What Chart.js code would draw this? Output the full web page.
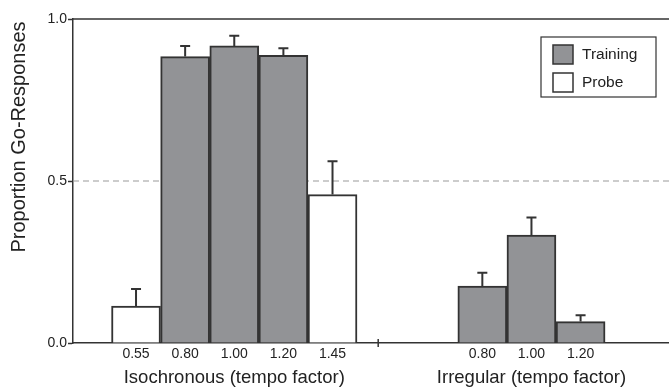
<!DOCTYPE html>
<html>
<head>
<meta charset="utf-8">
<script src="https://cdn.jsdelivr.net/npm/chart.js@4/dist/chart.umd.min.js"></script>
<style>
  html, body { margin: 0; padding: 0; background: #fff; }
  #wrap { width: 669px; height: 390px; position: relative; }
</style>
</head>
<body>
<div id="wrap"><canvas id="chart"></canvas></div>
<script>
// tempo factors per condition
const isoLabels = ['0.55', '0.80', '1.00', '1.20', '1.45'];
const irrLabels = ['0.80', '1.00', '1.20'];
// which bars are training vs probe
const isoKinds = ['Probe', 'Training', 'Training', 'Training', 'Probe'];
const irrKinds = ['Training', 'Training', 'Training'];
// proportion of go-responses, plus upward error bars
const isoMeans = [0.114, 0.884, 0.917, 0.888, 0.458];
const isoErrors = [0.053, 0.033, 0.031, 0.022, 0.103];
const irrMeans = [0.176, 0.333, 0.066];
const irrErrors = [0.041, 0.054, 0.020];
const yTicks = [0, 0.5, 1.0];

// slots on the x axis (irregular group starts after a gap)
const isoSlots = isoLabels.map((_, i) => i);
const irrSlots = irrLabels.map((_, i) => i + 7.05);
const sepSlot = 4.93;

const ink = '#333333';
const gray = '#929396';
const font = '"Liberation Sans", Arial, sans-serif';

function pointsFor(kind) {
  const pts = [];
  isoKinds.forEach((k, i) => { if (k === kind) pts.push({ x: isoSlots[i], y: isoMeans[i], err: isoErrors[i] }); });
  irrKinds.forEach((k, i) => { if (k === kind) pts.push({ x: irrSlots[i], y: irrMeans[i], err: irrErrors[i] }); });
  return pts;
}

const tickLabel = {};
isoSlots.forEach((s, i) => { tickLabel[s] = isoLabels[i]; });
irrSlots.forEach((s, i) => { tickLabel[s] = irrLabels[i]; });

const extras = {
  id: 'extras',
  beforeDatasetsDraw(chart) {
    const { ctx, chartArea: a, scales: { y } } = chart;
    // dashed reference line at 0.5
    ctx.save();
    ctx.strokeStyle = '#9a9a9a';
    ctx.lineWidth = 1.2;
    ctx.setLineDash([6, 4]);
    ctx.beginPath();
    ctx.moveTo(a.left, y.getPixelForValue(0.5));
    ctx.lineTo(a.right, y.getPixelForValue(0.5));
    ctx.stroke();
    ctx.restore();
  },
  afterDatasetsDraw(chart) {
    const { ctx, chartArea: a, scales: { x, y } } = chart;
    ctx.save();
    ctx.strokeStyle = ink;
    ctx.lineWidth = 2;
    // error bars (upper half only)
    chart.data.datasets.forEach((ds, di) => {
      chart.getDatasetMeta(di).data.forEach((bar, i) => {
        const p = ds.data[i];
        const top = y.getPixelForValue(p.y + p.err);
        ctx.beginPath();
        ctx.moveTo(bar.x, bar.y);
        ctx.lineTo(bar.x, top);
        ctx.moveTo(bar.x - 5, top);
        ctx.lineTo(bar.x + 5, top);
        ctx.stroke();
      });
    });
    // top frame line
    ctx.lineWidth = 1.5;
    ctx.beginPath();
    ctx.moveTo(a.left, a.top);
    ctx.lineTo(a.right, a.top);
    ctx.stroke();
    // separator tick between groups
    const sx = x.getPixelForValue(sepSlot);
    ctx.beginPath();
    ctx.moveTo(sx, a.bottom - 4);
    ctx.lineTo(sx, a.bottom + 4);
    ctx.stroke();

    // group labels
    ctx.fillStyle = '#222';
    ctx.font = '18.5px ' + font;
    ctx.textAlign = 'center';
    ctx.textBaseline = 'middle';
    ctx.fillText('Isochronous (tempo factor)', x.getPixelForValue(isoSlots[2]), 378);
    ctx.fillText('Irregular (tempo factor)', x.getPixelForValue(irrSlots[1]), 378);

    // y axis title
    ctx.save();
    ctx.translate(19, 137);
    ctx.rotate(-Math.PI / 2);
    ctx.font = '20px ' + font;
    ctx.fillText('Proportion Go-Responses', 0, 0);
    ctx.restore();

    // legend box
    const lx = 541, ly = 37, lw = 115, lh = 60;
    ctx.lineWidth = 1.2;
    ctx.strokeStyle = ink;
    ctx.fillStyle = '#fff';
    ctx.fillRect(lx, ly, lw, lh);
    ctx.strokeRect(lx, ly, lw, lh);
    ctx.font = '15.5px ' + font;
    ctx.textAlign = 'left';
    chart.data.datasets.forEach((ds, di) => {
      const ry = ly + 8 + di * 28;
      ctx.fillStyle = ds.backgroundColor;
      ctx.fillRect(lx + 12, ry, 20, 19);
      ctx.lineWidth = 1.5;
      ctx.strokeRect(lx + 12, ry, 20, 19);
      ctx.fillStyle = '#222';
      ctx.fillText(ds.label, lx + 41, ry + 10);
    });
    ctx.restore();
  }
};

new Chart(document.getElementById('chart'), {
  type: 'bar',
  data: {
    datasets: [
      {
        label: 'Training',
        data: pointsFor('Training'),
        backgroundColor: gray,
        borderColor: ink,
        borderWidth: 2,
        barThickness: 49,
        grouped: false,
      },
      {
        label: 'Probe',
        data: pointsFor('Probe'),
        backgroundColor: '#ffffff',
        borderColor: ink,
        borderWidth: 2,
        barThickness: 49,
        grouped: false,
      },
    ],
  },
  options: {
    responsive: true,
    maintainAspectRatio: false,
    animation: false,
    layout: { padding: { top: 19, right: 0, left: 0, bottom: 0 } },
    plugins: {
      legend: { display: false },
      tooltip: { enabled: false },
    },
    scales: {
      x: {
        type: 'linear',
        offset: false,
        min: -1.283,
        max: 10.85,
        afterFit(scale) { scale.height = 47; },
        afterBuildTicks(scale) {
          scale.ticks = isoSlots.concat(irrSlots).map((v) => ({ value: v }));
        },
        ticks: {
          autoSkip: false,
          maxRotation: 0,
          padding: 3,
          color: '#222',
          font: { size: 14, family: font },
          callback: (v) => tickLabel[v] || '',
        },
        grid: { display: false, drawTicks: false },
        border: { display: true, color: ink, width: 1.5 },
      },
      y: {
        min: 0,
        max: 1,
        afterFit(scale) { scale.width = 73; },
        afterBuildTicks(scale) {
          scale.ticks = yTicks.map((v) => ({ value: v }));
        },
        ticks: {
          color: '#222',
          padding: 1,
          font: { size: 14, family: font },
          callback: (v) => v.toFixed(1),
        },
        grid: { drawOnChartArea: false, drawTicks: true, tickLength: 5, color: ink, tickWidth: 1.5 },
        border: { display: true, color: ink, width: 1.5 },
      },
    },
  },
  plugins: [extras],
});
</script>
</body>
</html>
